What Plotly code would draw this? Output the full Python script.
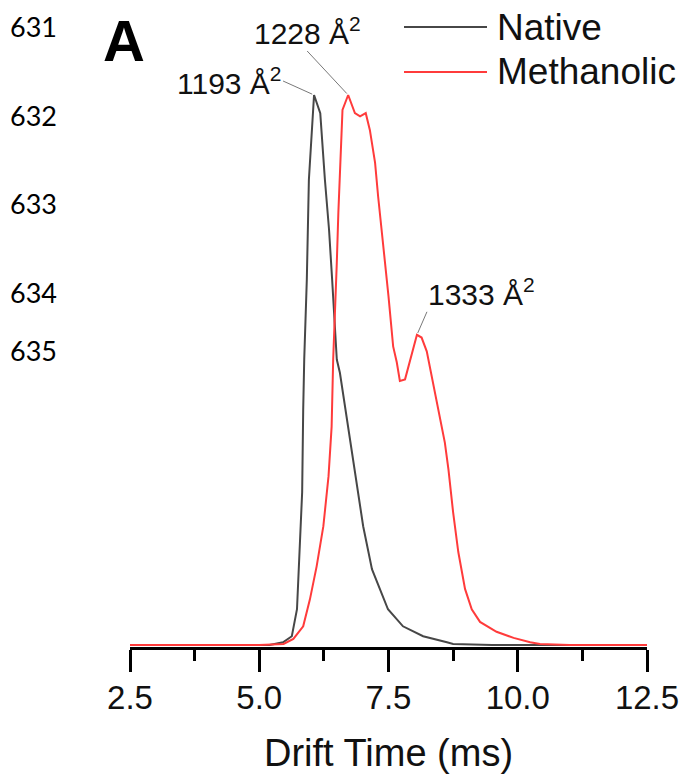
import plotly.graph_objects as go

# ---- data ----
native_t = [2.5, 4.5, 5.2, 5.46, 5.63, 5.73, 5.77, 5.83, 5.85, 5.87, 5.92, 5.96, 6.06,
            6.18, 6.27, 6.35, 6.41, 6.47, 6.50, 6.56, 6.62, 6.81, 7.01, 7.18, 7.34,
            7.49, 7.78, 8.17, 8.63, 8.75, 9.5, 12.5]
native_i = [0, 0, 0, 0.5, 1.6, 6.5, 15.6, 27.8, 42.8, 51.9, 66.4, 84.6, 100,
            96.7, 84.6, 75.5, 66.4, 57.4, 51.9, 49.5, 45.9, 33.8, 21.6, 13.8, 10.2,
            6.5, 3.4, 1.6, 0.5, 0.2, 0, 0]

meth_t = [2.5, 5.0, 5.47, 5.66, 5.85, 5.98, 6.11, 6.24, 6.34, 6.40, 6.43, 6.47, 6.50,
          6.53, 6.56, 6.58, 6.61, 6.72, 6.85, 6.95, 7.06, 7.14, 7.24, 7.30, 7.37,
          7.43, 7.50, 7.59, 7.66, 7.72, 7.82, 8.05, 8.14, 8.24, 8.37, 8.50, 8.59,
          8.66, 8.75, 8.85, 8.98, 9.11, 9.27, 9.59, 9.92, 10.24, 10.43, 11.0, 12.5]
meth_i = [0, 0, 0.2, 1.1, 3.4, 8.3, 14.3, 21.6, 30.7, 39.7, 51.9, 60.4, 69.5,
          78.6, 84.6, 90.6, 97.3, 100, 96.7, 96.1, 96.7, 93.6, 87.7, 81.5, 75.5,
          69.5, 63.4, 54.3, 51.4, 48.0, 48.3, 56.4, 55.9, 53.4, 47.1, 41.0, 36.8,
          31.9, 24.1, 16.9, 10.2, 6.5, 4.2, 2.4, 1.3, 0.5, 0.2, 0, 0]

series_names = ["Native", "Methanolic"]
ccs_labels = ["1193 Å<sup>2</sup>", "1228 Å<sup>2</sup>", "1333 Å<sup>2</sup>"]
ccs_t = [6.06, 6.72, 8.05]
ccs_i = [100, 100, 56.4]
line_numbers = ["631", "632", "633", "634", "635"]
x_ticks = [2.5, 5.0, 7.5, 10.0, 12.5]

NATIVE_C = "#474747"
METH_C = "#ff3b3b"
FONT = "Liberation Sans, Arial, sans-serif"

fig = go.Figure()
fig.add_trace(go.Scatter(x=native_t, y=native_i, mode="lines", name=series_names[0],
                         line=dict(color=NATIVE_C, width=2), showlegend=False))
fig.add_trace(go.Scatter(x=meth_t, y=meth_i, mode="lines", name=series_names[1],
                         line=dict(color=METH_C, width=2), showlegend=False))

W, H = 681, 776
L = 130
pw = 517
R = W - L - pw
T = 0
AXIS_Y = 647
B = H - AXIS_Y
ph = AXIS_Y - T


def px(xp):
    return (xp - L) / pw


def py(yp):
    return (AXIS_Y - yp) / ph


annotations = []
ann_cfg = [
    dict(ax=-31, ay=-14, xanchor="right", yanchor="middle"),
    dict(ax=-41, ay=-44, xanchor="center", yanchor="bottom"),
    dict(ax=10, ay=-23, xanchor="left", yanchor="bottom"),
]
for lab, xt, yi, cfg in zip(ccs_labels, ccs_t, ccs_i, ann_cfg):
    annotations.append(dict(x=xt, y=yi, xref="x", yref="y", text=lab, showarrow=True,
                            arrowhead=0, arrowwidth=0.8, arrowcolor="#555555",
                            font=dict(family=FONT, size=30, color="#111111"),
                            borderpad=0, standoff=2, **cfg))

annotations.append(dict(x=px(124), y=py(40), xref="paper", yref="paper", text="<b>A</b>",
                        showarrow=False, font=dict(family=FONT, size=58, color="black"),
                        xanchor="center", yanchor="middle"))

ln_y = [26, 116, 204, 293, 351]
for t, yy in zip(line_numbers, ln_y):
    annotations.append(dict(x=px(8), y=py(yy), xref="paper", yref="paper", text=t,
                            showarrow=False, font=dict(family="Lato, Carlito, sans-serif",
                                                       size=27, color="black"),
                            xanchor="left", yanchor="middle"))

shapes = []
leg_y = [27, 72]
leg_c = [NATIVE_C, METH_C]
for name, yy, c in zip(series_names, leg_y, leg_c):
    shapes.append(dict(type="line", xref="paper", yref="paper", x0=px(404), x1=px(487),
                       y0=py(yy), y1=py(yy), line=dict(color=c, width=2)))
    annotations.append(dict(x=px(495), y=py(yy), xref="paper", yref="paper", text=name,
                            showarrow=False, font=dict(family=FONT, size=37, color="#111111"),
                            xanchor="left", yanchor="middle"))

ymin = -2 / 5.5
ymax = ymin + ph / 5.5

fig.update_layout(
    width=W, height=H,
    margin=dict(l=L, r=R, t=T, b=B),
    paper_bgcolor="white", plot_bgcolor="white",
    annotations=annotations, shapes=shapes,
    xaxis=dict(range=[2.5, 12.5], tickvals=x_ticks, ticktext=[f"{v:.1f}" for v in x_ticks],
               showgrid=False, zeroline=False, showline=True, linecolor="black", linewidth=3,
               ticks="outside", ticklen=22, tickwidth=3, tickcolor="black",
               ticklabelstandoff=-3,
               minor=dict(dtick=1.25, tick0=2.5, ticks="outside", ticklen=11, tickwidth=3,
                          tickcolor="black", showgrid=False),
               tickfont=dict(family=FONT, size=33, color="#111111"),
               title=dict(text="Drift Time (ms)", font=dict(family=FONT, size=38, color="#111111"),
                          standoff=25)),
    yaxis=dict(range=[ymin, ymax], visible=False),
)

fig.write_html(
    "out.html",
    config={"displayModeBar": False},
    post_script="document.body.style.margin='0px';document.body.style.overflow='hidden';",
)
